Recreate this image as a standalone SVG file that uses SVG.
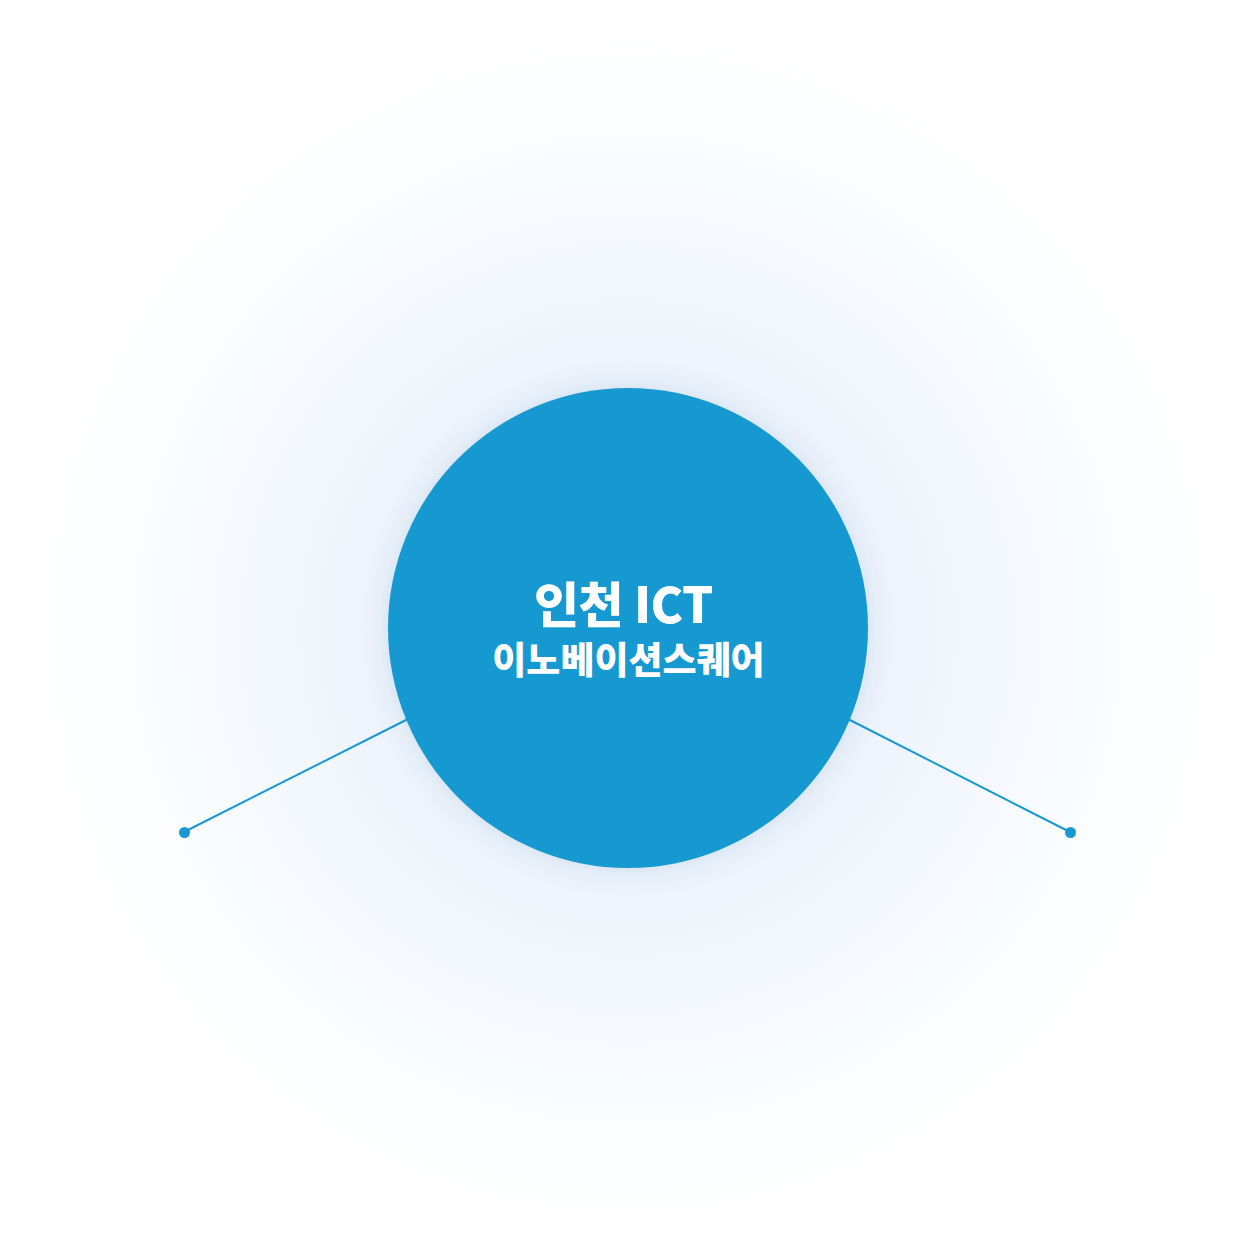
<svg xmlns="http://www.w3.org/2000/svg" width="1254" height="1254" viewBox="0 0 1254 1254">
  <defs>
    <radialGradient id="glow" cx="628" cy="628" r="600" gradientUnits="userSpaceOnUse">
      <stop offset="0" stop-color="#e4eefa"/>
      <stop offset="0.45" stop-color="#eef4fc"/>
      <stop offset="0.75" stop-color="#f8fbfe"/>
      <stop offset="1" stop-color="#ffffff"/>
    </radialGradient>
    <filter id="sh" x="-30%" y="-30%" width="160%" height="160%">
      <feGaussianBlur in="SourceAlpha" stdDeviation="14" result="b"/>
      <feFlood flood-color="#2a4f8f" flood-opacity="0.14"/>
      <feComposite operator="in" in2="b"/>
      <feMerge><feMergeNode/><feMergeNode in="SourceGraphic"/></feMerge>
    </filter>
  </defs>
  <style>
    .conn { stroke: #1799d1; stroke-width: 2; fill: none; }
    .dot { fill: #1799d1; }
    .t { fill: #ffffff; font-family: "Noto Sans CJK KR", "Noto Sans", sans-serif; font-weight: 900; text-anchor: middle; }
  </style>
  <rect width="1254" height="1254" fill="#ffffff"/>
  <rect width="1254" height="1254" fill="url(#glow)"/>
  <g id="connectors">
    <line class="conn" x1="184" y1="832" x2="410" y2="718"/>
    <circle class="dot" cx="184.5" cy="832.5" r="5.5"/>
    <line class="conn" x1="1070" y1="832" x2="846" y2="718"/>
    <circle class="dot" cx="1070.5" cy="832.5" r="5.5"/>
  </g>
  <g id="center-node">
    <circle cx="628" cy="628" r="240" fill="#1799d1" filter="url(#sh)"/>
    <text class="t" x="623.5" y="623" font-size="49" letter-spacing="-0.5">인천 ICT</text>
    <text class="t" x="628.5" y="674" font-size="37" letter-spacing="0">이노베이션스퀘어</text>
  </g>
</svg>
